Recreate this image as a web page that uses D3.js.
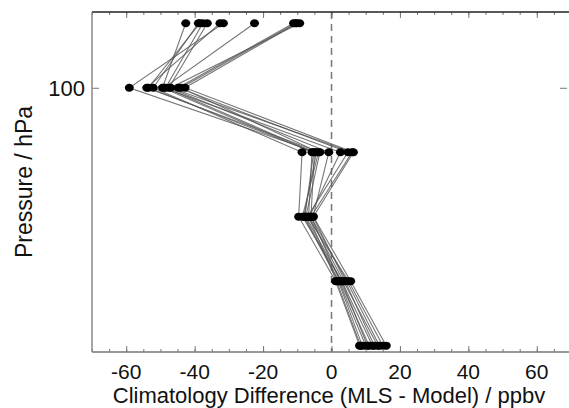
<!DOCTYPE html>
<html>
<head>
<meta charset="utf-8">
<script src="https://cdn.jsdelivr.net/npm/d3@7"></script>
<style>
  body { margin: 0; background: #fff; }
  svg { font-family: "Liberation Sans", Arial, sans-serif; }
</style>
</head>
<body>
<div id="chart"></div>
<script>
'use strict';
// pressure levels (hPa)
let levels = [68.13, 100, 146.8, 215.4, 316.2, 464.2];
// one climatology difference profile per month, values at each level (ppbv)
let profiles = [
  [-31.6, -59.1, -4.4, -8.1, 2.0, 9.0],
  [-32.6, -54.0, -3.4, -7.5, 3.0, 10.5],
  [-42.6, -49.4, -5.7, -6.7, 1.5, 8.5],
  [-38.9, -52.1, -8.6, -9.6, 1.2, 8.2],
  [-37.6, -48.5, -5.0, -6.0, 2.5, 11.0],
  [-36.3, -47.5, -0.8, -5.4, 4.0, 12.5],
  [-22.5, -49.0, 2.6, -6.5, 3.5, 13.5],
  [-11.1, -44.8, 4.8, -7.0, 5.0, 15.0],
  [-10.1, -42.8, 6.4, -5.3, 5.6, 16.0],
  [-9.3, -47.0, 6.0, -6.0, 4.5, 14.0],
  [-10.5, -44.0, -3.8, -8.5, 3.0, 12.0],
  [-38.5, -53.5, -5.2, -7.8, 2.2, 10.0]
];
let xTicks = [-60, -40, -20, 0, 20, 40, 60];
let yTicks = [100];

let width = 569, height = 408;
let pLeft = 92, pRight = 571, pTop = 12, pBottom = 352;

let x = d3.scaleLinear().domain([-70, 70]).range([pLeft, pRight]);
let y = d3.scaleLog().domain([63.7, 482]).range([pTop, pBottom]);

let svg = d3.select("#chart").append("svg")
  .attr("width", width)
  .attr("height", height);

// zero line
svg.append("line")
  .attr("x1", x(0)).attr("x2", x(0))
  .attr("y1", pTop).attr("y2", pBottom)
  .attr("stroke", "#777")
  .attr("stroke-width", 1.5)
  .attr("stroke-dasharray", "7,5");

// profiles
let line = d3.line()
  .x(function (d) { return x(d[0]); })
  .y(function (d) { return y(d[1]); });

let plot = svg.append("g");
profiles.forEach(function (p) {
  let pts = p.map(function (v, i) { return [v, levels[i]]; });
  plot.append("path")
    .attr("d", line(pts))
    .attr("fill", "none")
    .attr("stroke", "#555")
    .attr("stroke-opacity", 0.8)
    .attr("stroke-width", 1.1);
});
profiles.forEach(function (p) {
  plot.selectAll(null)
    .data(p.map(function (v, i) { return [v, levels[i]]; }))
    .enter()
    .append("ellipse")
    .attr("cx", function (d) { return x(d[0]); })
    .attr("cy", function (d) { return y(d[1]); })
    .attr("rx", 4.5)
    .attr("ry", 4)
    .attr("fill", "#000");
});

// axes, ticks pointing inward
let minor = d3.range(-70, 71, 5);
let xBottom = d3.axisTop(x).tickValues(minor).tickSize(3).tickFormat("");
let xBottomMajor = d3.axisTop(x).tickValues(xTicks).tickSize(6).tickFormat("");
let xTop = d3.axisBottom(x).tickValues(minor).tickSize(3).tickFormat("");
let xTopMajor = d3.axisBottom(x).tickValues(xTicks).tickSize(6).tickFormat("");

function styleAxis(g, color) {
  g.select(".domain").remove();
  g.selectAll("line").attr("stroke", color);
}
svg.append("g").attr("transform", "translate(0," + pBottom + ")").call(xBottom).call(styleAxis, "#777");
svg.append("g").attr("transform", "translate(0," + pBottom + ")").call(xBottomMajor).call(styleAxis, "#777");
svg.append("g").attr("transform", "translate(0," + pTop + ")").call(xTop).call(styleAxis, "#777");
svg.append("g").attr("transform", "translate(0," + pTop + ")").call(xTopMajor).call(styleAxis, "#777");

let yLeft = d3.axisRight(y).tickValues(yTicks).tickSize(7).tickFormat("");
let yRight = d3.axisLeft(y).tickValues(yTicks).tickSize(7).tickFormat("");
svg.append("g").attr("transform", "translate(" + pLeft + ",0)").call(yLeft).call(styleAxis, "#777");
svg.append("g").attr("transform", "translate(" + (pRight - 4) + ",0)").call(yRight).call(styleAxis, "#777");

// frame
svg.append("line").attr("x1", pLeft).attr("x2", pRight).attr("y1", pTop).attr("y2", pTop)
  .attr("stroke", "#222").attr("stroke-width", 1.5);
svg.append("line").attr("x1", pLeft).attr("x2", pRight).attr("y1", pBottom).attr("y2", pBottom)
  .attr("stroke", "#777").attr("stroke-width", 1.5);
svg.append("line").attr("x1", pLeft).attr("x2", pLeft).attr("y1", pTop).attr("y2", pBottom)
  .attr("stroke", "#888").attr("stroke-width", 1.5);

// tick labels
svg.selectAll(".xlab")
  .data(xTicks)
  .enter()
  .append("text")
  .attr("x", function (d) { return x(d); })
  .attr("y", 379)
  .attr("text-anchor", "middle")
  .attr("font-size", "21px")
  .attr("fill", "#111")
  .text(function (d) { return d; });

svg.selectAll(".ylab")
  .data(yTicks)
  .enter()
  .append("text")
  .attr("x", 85)
  .attr("y", function (d) { return y(d) + 8; })
  .attr("text-anchor", "end")
  .attr("font-size", "22px")
  .attr("fill", "#111")
  .text(function (d) { return d; });

// axis titles
svg.append("text")
  .attr("x", 329)
  .attr("y", 403)
  .attr("text-anchor", "middle")
  .attr("font-size", "22px")
  .attr("fill", "#111")
  .text("Climatology Difference (MLS - Model) / ppbv");

svg.append("text")
  .attr("transform", "translate(32," + 182 + ") rotate(-90)")
  .attr("text-anchor", "middle")
  .attr("font-size", "23px")
  .attr("fill", "#111")
  .text("Pressure / hPa");
</script>
</body>
</html>
